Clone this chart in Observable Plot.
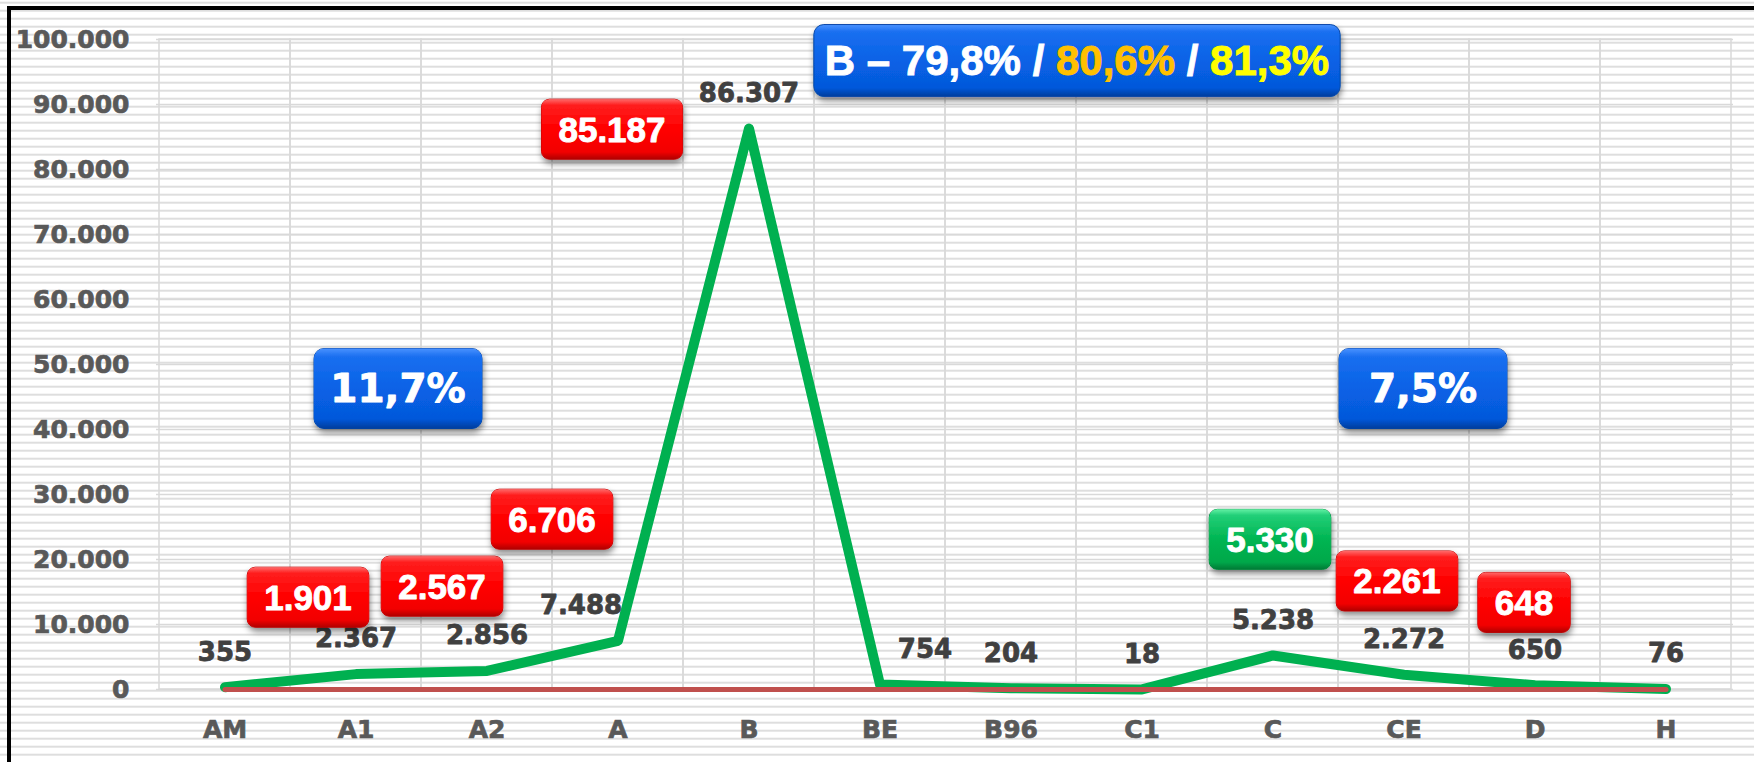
<!DOCTYPE html>
<html><head><meta charset="utf-8">
<script src="https://cdn.jsdelivr.net/npm/d3@7"></script>
<script src="https://cdn.jsdelivr.net/npm/@observablehq/plot@0.6"></script>
<style>
html,body{margin:0;padding:0;width:1754px;height:762px;overflow:hidden;background:#fff;}
#bg{position:absolute;left:0;top:0;width:1754px;height:762px;
 background-image:repeating-linear-gradient(to bottom, rgba(0,0,0,0) 0px, rgba(0,0,0,0) 6px, #dedede 6px, #dedede 8px);
 background-position:0 -4.3px;}
#frame{position:absolute;left:7px;top:6px;right:0;bottom:0;border-left:4px solid #000;border-top:4px solid #000;}
#chart{position:absolute;left:0;top:0;width:1754px;height:762px;}
#chart svg g[aria-label*="axis"] text{stroke:currentColor;stroke-width:0.7px;paint-order:stroke;}
</style></head>
<body><div id="bg"></div><div id="frame"></div><div id="chart"></div>
<script>
// ---- data ----
const categories = ["AM","A1","A2","A","B","BE","B96","C1","C","CE","D","H"];
const counts = [355, 2367, 2856, 7488, 86307, 754, 204, 18, 5238, 2272, 650, 76];
const baselineSeries = [0,0,0,0,0,0,0,0,0,0,0,0];
const prevCategories = ["A1","A2","A","B","C","CE","D"];
const prevCounts = [1901, 2567, 6706, 85187, 5330, 2261, 648];
const shareCategories = ["A1","CE"];
const shareLabels = ["11,7%","7,5%"];
const headerCategory = "B";
const headerShares = ["79,8%","80,6%","81,3%"];
const yTicks = [0,10000,20000,30000,40000,50000,60000,70000,80000,90000,100000];

// ---- helpers ----
const fmt = d3.formatLocale({decimal:",", thousands:".", grouping:[3], currency:["",""]}).format(",d");
const rows = categories.map((c,i)=>({cat:c, value:counts[i], base:baselineSeries[i]}));
const current = Object.fromEntries(rows.map(r=>[r.cat, r.value]));

// annotation placement (anchor in y units + pixel shifts)
const labelDx = {A:-37, BE:45};
const prevPlace = {A1:{y:14000,dx:-48}, A2:{y:15700,dx:-45}, A:{y:26000,dx:-66}, B:{y:86000,dx:-137},
                   C:{y:22900,dx:-3}, CE:{y:16500,dx:-7}, D:{y:13200,dx:-11}};
const sharePlace = {A1:{y:46150,dx:42}, CE:{y:46150,dx:19}};
const headerPlace = {x:"B96", y:96600, dx:66};

const labelStyle = {fontFamily:"DejaVu Sans", fontWeight:"bold", fontSize:26, fill:"#404040", stroke:"#404040", strokeWidth:0.8};

const marks = [
  Plot.ruleY(yTicks, {stroke:"#d9d9d9", strokeWidth:1.5}),
  Plot.barY(categories, {x:d=>d, y1:()=>0, y2:()=>100000, fill:"none", stroke:"#d9d9d9", strokeWidth:1.5}),
  Plot.line(rows, {x:"cat", y:"value", stroke:"#00b050", strokeWidth:10, strokeLinecap:"round"}),
  Plot.line(rows, {x:"cat", y:"base", stroke:"#c0504d", strokeWidth:5}),
  Plot.text(rows.filter(r=>!(r.cat in labelDx)), {x:"cat", y:"value", text:r=>fmt(r.value), dy:-35, ...labelStyle}),
  ...Object.entries(labelDx).map(([c,dx]) =>
    Plot.text(rows.filter(r=>r.cat===c), {x:"cat", y:"value", text:r=>fmt(r.value), dy:-35, dx, ...labelStyle})),
  ...prevCategories.map((c,i) => {
    const kind = prevCounts[i] > current[c] ? "box-green" : "box-red";
    return Plot.text([{cat:c, v:prevCounts[i]}], {x:"cat", y:()=>prevPlace[c].y, dx:prevPlace[c].dx,
      text:d=>fmt(d.v), fill:"#fff", stroke:"#fff", strokeWidth:0.9,
      fontFamily:"Liberation Sans", fontWeight:"bold", fontSize:35, ariaDescription:kind});
  }),
  ...shareCategories.map((c,i) =>
    Plot.text([{cat:c, t:shareLabels[i]}], {x:"cat", y:()=>sharePlace[c].y, dx:sharePlace[c].dx,
      text:"t", fill:"#fff", stroke:"#fff", strokeWidth:0.9,
      fontFamily:"DejaVu Sans", fontWeight:"bold", fontSize:39, ariaDescription:"box-blue"})),
  Plot.text([{cat:headerPlace.x}], {x:"cat", y:()=>headerPlace.y, dx:headerPlace.dx,
    text:()=>`${headerCategory} – ${headerShares.join(" / ")}`, fill:"#fff",
    fontFamily:"Liberation Sans", fontWeight:"bold", fontSize:42, ariaDescription:"box-header"})
];

const svg = Plot.plot({
  width:1754, height:762,
  marginLeft:156, marginRight:21, marginTop:39, marginBottom:73,
  x:{type:"band", domain:categories, padding:0, tickSize:0, tickPadding:31, label:null},
  y:{domain:[0,100000], ticks:yTicks, tickFormat:fmt, tickSize:0, tickPadding:27, label:null},
  style:{fontFamily:"DejaVu Sans", fontSize:"25px", fontWeight:"bold", color:"#595959", background:"transparent", overflow:"visible"},
  marks
});
document.getElementById("chart").append(svg);

// ---- decorate annotation boxes ----
const ns = "http://www.w3.org/2000/svg";
const defs = document.createElementNS(ns, "defs");
defs.innerHTML = `
<linearGradient id="gRed" x1="0" y1="0" x2="0" y2="1">
 <stop offset="0" stop-color="#ff6a6a"/><stop offset="0.1" stop-color="#ff1e1e"/>
 <stop offset="0.5" stop-color="#ff0000"/><stop offset="0.88" stop-color="#f20000"/><stop offset="1" stop-color="#b00000"/>
</linearGradient>
<linearGradient id="gGreen" x1="0" y1="0" x2="0" y2="1">
 <stop offset="0" stop-color="#62f0a4"/><stop offset="0.1" stop-color="#22cf78"/>
 <stop offset="0.5" stop-color="#00b552"/><stop offset="0.88" stop-color="#00a84a"/><stop offset="1" stop-color="#007a36"/>
</linearGradient>
<linearGradient id="gBlue" x1="0" y1="0" x2="0" y2="1">
 <stop offset="0" stop-color="#4a92ff"/><stop offset="0.1" stop-color="#1a6ff0"/>
 <stop offset="0.5" stop-color="#0862e6"/><stop offset="0.88" stop-color="#0558da"/><stop offset="1" stop-color="#003c9c"/>
</linearGradient>
<filter id="shadow" x="-20%" y="-30%" width="140%" height="170%">
 <feDropShadow dx="1" dy="4" stdDeviation="3" flood-color="#000" flood-opacity="0.45"/>
</filter>`;
svg.insertBefore(defs, svg.firstChild);

function marksOf(label) {
  return svg.querySelectorAll(`[aria-description="${label}"] text`);
}

// header coloured parts
marksOf("box-header").forEach(t => {
  t.textContent = "";
  const parts = [[`${headerCategory} – ${headerShares[0]} / `, "#ffffff"], [headerShares[1], "#ffc000"],
                 [" / ", "#ffffff"], [headerShares[2], "#ffff00"]];
  for (const [s, c] of parts) {
    const ts = document.createElementNS(ns, "tspan");
    ts.setAttribute("fill", c);
    ts.setAttribute("stroke", c);
    ts.setAttribute("stroke-width", 0.9);
    ts.setAttribute("paint-order", "stroke");
    ts.textContent = s;
    t.appendChild(ts);
  }
});

function boxify(label, grad, stroke, h, padX, rx, minW = 0) {
  marksOf(label).forEach(t => {
    const b = t.getBBox();
    const r = document.createElementNS(ns, "rect");
    const cy = b.y + b.height / 2;
    const cx = b.x + b.width / 2;
    const w = Math.max(b.width + 2 * padX, minW);
    r.setAttribute("x", cx - w / 2);
    r.setAttribute("y", cy - h / 2);
    r.setAttribute("width", w);
    r.setAttribute("height", h);
    r.setAttribute("rx", rx);
    r.setAttribute("fill", `url(#${grad})`);
    r.setAttribute("stroke", stroke);
    r.setAttribute("stroke-width", 1);
    r.setAttribute("filter", "url(#shadow)");
    const tr = t.getAttribute("transform");
    if (tr) r.setAttribute("transform", tr);
    t.parentNode.insertBefore(r, t);
  });
}
boxify("box-red", "gRed", "#c00000", 60, 17, 8);
boxify("box-green", "gGreen", "#00883c", 60, 17, 8);
boxify("box-blue", "gBlue", "#0848a8", 80, 15, 10, 168);
boxify("box-header", "gBlue", "#0848a8", 72, 11, 10);
</script></body></html>
